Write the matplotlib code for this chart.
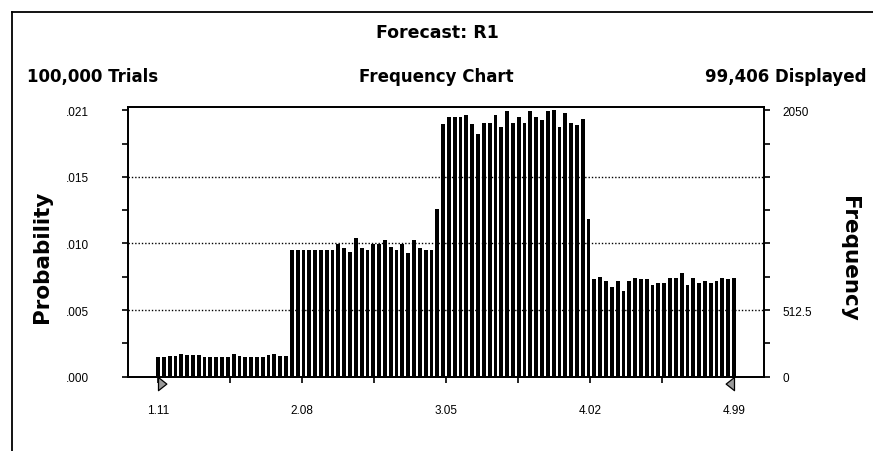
import numpy as np
import matplotlib
matplotlib.use('Agg')
import matplotlib.pyplot as plt
import matplotlib.transforms as mtransforms
from matplotlib.lines import Line2D

# forecast summary
forecast_name = 'R1'
trials = 100000
displayed = 99406

# histogram cells: first and last cell value, frequency of each of the 100 cells
cell_min = 1.11
cell_max = 4.99
freq = [148, 150, 160, 162, 178, 165, 165, 165, 152, 152, 152, 152, 152, 178, 162, 152,
        152, 152, 152, 165, 178, 162, 162,
        974, 974, 974, 974, 974, 974, 974, 974, 1020, 987, 956, 1064, 987, 974, 1020, 1020,
        1051, 1000, 974, 1020, 948, 1051, 987, 974, 974,
        1292,
        1942, 2001, 2001, 2001, 2014, 1942, 1865, 1953, 1953, 2014, 1922, 2043, 1953, 2001,
        1953, 2043, 2001, 1971, 2043, 2048, 1922, 2025, 1953, 1940, 1984,
        1215,
        752, 764, 734, 692, 734, 660, 734, 763, 752, 750, 703, 721, 721, 763, 763, 794,
        703, 763, 721, 734, 721, 734, 763, 750, 763]

# axis scale
freq_max = 2050
x_labels = ['1.11', '2.08', '3.05', '4.02', '4.99']

x = np.linspace(cell_min, cell_max, len(freq))
step = x[1] - x[0]

fig = plt.figure(figsize=(8.73, 4.52), dpi=100)
ax = fig.add_axes([0.1463, 0.1644, 0.7288, 0.5966])

ax.bar(x, freq, width=step * 0.66, color='black', linewidth=0, zorder=2)

ax.set_xlim(cell_min - 0.204, cell_max + 0.202)
ax.set_ylim(0, freq_max * 1.012)

# dotted grid at the quarter marks
yq = [freq_max * k / 4 for k in range(5)]
for yv in yq[1:4]:
    ax.axhline(yv, color='black', linewidth=1.0, linestyle=(0, (1, 1.4)), zorder=1)

# probability scale on the left
prob_labels = [('%.3f' % (v / displayed))[1:] for v in yq]
ax.set_yticks(yq)
ax.set_yticklabels(prob_labels)
ax.set_yticks([freq_max * k / 8 for k in range(1, 8, 2)], minor=True)

# frequency scale on the right
ax2 = ax.twinx()
ax2.set_ylim(ax.get_ylim())
ax2.set_yticks(yq)
ax2.set_yticklabels(['0', '512.5', '', '', '2050'])
ax2.set_yticks([freq_max * k / 8 for k in range(1, 8, 2)], minor=True)

xt = [float(s) for s in x_labels]
ax.set_xticks(xt)
ax.set_xticklabels(x_labels)
ax.set_xticks([(a + b) / 2 for a, b in zip(xt[:-1], xt[1:])], minor=True)

for a in (ax, ax2):
    for s in a.spines.values():
        s.set_linewidth(1.3)
        s.set_color('black')
    a.tick_params(which='both', direction='out', length=4, width=1.2, colors='black',
                  labelsize=8.5)
ax.tick_params(axis='y', which='major', pad=24)
ax.tick_params(axis='x', which='major', pad=16)
ax2.tick_params(axis='y', which='major', pad=9)
for lab in ax.get_xticklabels() + ax.get_yticklabels() + ax2.get_yticklabels():
    lab.set_family(['Liberation Sans', 'DejaVu Sans'])

# end markers under the axis at first and last cell
trans = mtransforms.blended_transform_factory(ax.transData, ax.transAxes)
right_tri = [(0, 0), (0, -1.5), (0.95, -0.75), (0, 0)]
left_tri = [(0, 0), (0, -1.5), (-0.95, -0.75), (0, 0)]
ax.plot([cell_min], [0], marker=right_tri, markersize=19, markerfacecolor='#9a9a9a',
        markeredgecolor='black', markeredgewidth=0.9, transform=trans, clip_on=False,
        zorder=5, linestyle='none')
ax.plot([cell_max], [0], marker=left_tri, markersize=19, markerfacecolor='#9a9a9a',
        markeredgecolor='black', markeredgewidth=0.9, transform=trans, clip_on=False,
        zorder=5, linestyle='none')

# axis titles
fig.text(0.048, 0.431, 'Probability', rotation=90, ha='center', va='center',
         fontsize=15.5, fontweight='bold', family='DejaVu Sans')
fig.text(0.972, 0.428, 'Frequency', rotation=-90, ha='center', va='center',
         fontsize=15.5, fontweight='bold', family='DejaVu Sans')

# header lines
fig.text(0.5006, 0.927, 'Forecast: ' + forecast_name, ha='center', va='center',
         fontsize=12.5, fontweight='bold')
fig.text(0.031, 0.8296, '{:,} Trials'.format(trials), ha='left', va='center',
         fontsize=12, fontweight='bold')
fig.text(0.4994, 0.8296, 'Frequency Chart', ha='center', va='center',
         fontsize=12, fontweight='bold')
fig.text(0.992, 0.8296, '{:,} Displayed'.format(displayed), ha='right', va='center',
         fontsize=12, fontweight='bold')

# window border (top and left edges)
fig.add_artist(Line2D([0.0134, 1.0], [0.972, 0.972], color='black', linewidth=1.3))
fig.add_artist(Line2D([0.0134, 0.0134], [0.0, 0.972], color='black', linewidth=1.3))

fig.savefig('out.png', dpi=100)
